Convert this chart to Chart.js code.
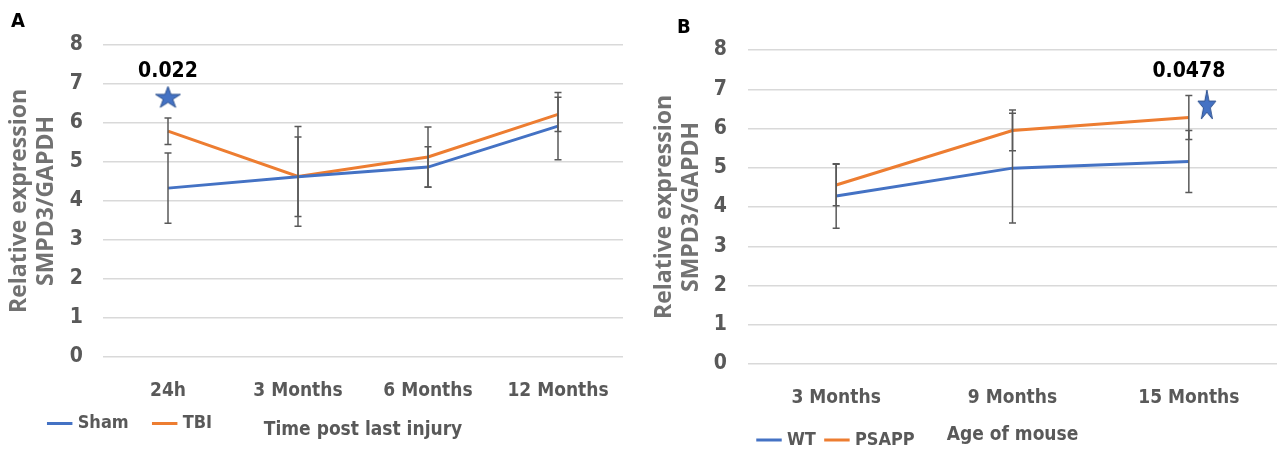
<!DOCTYPE html>
<html>
<head>
<meta charset="utf-8">
<script src="https://cdn.jsdelivr.net/npm/chart.js@4.4.1/dist/chart.umd.min.js"></script>
<style>
  html, body { margin:0; padding:0; background:#fff; overflow:hidden; }
  #wrap { position:relative; width:1283px; height:449px; overflow:hidden; }
  .panel { position:absolute; top:0; height:470px; }
  .tag { position:absolute; font:bold 20px 'DejaVu Sans Condensed','DejaVu Sans',sans-serif; color:#000; }
</style>
</head>
<body>
<div id="wrap">
  <div class="panel" style="left:0;width:640px"><canvas id="chartA"></canvas></div>
  <div class="panel" style="left:640px;width:643px"><canvas id="chartB"></canvas></div>
  <div class="tag" style="left:11px;top:8px">A</div>
  <div class="tag" style="left:677px;top:14px">B</div>
</div>
<script>
// panel A - time post last injury
const catsA    = ['24h', '3 Months', '6 Months', '12 Months'];
const shamA    = [4.33, 4.62, 4.87, 5.92];
const shamErrA = [0.90, 1.02, 0.52, 0.86];
const tbiA     = [5.79, 4.63, 5.13, 6.22];
const tbiErrA  = [0.34, 1.28, 0.77, 0.44];
const starA    = [6.67, null, null, null];
const pTextA   = ['0.022', null, null, null];
const pAtA     = [7.31, null, null, null];

// panel B - age of mouse
const catsB     = ['3 Months', '9 Months', '15 Months'];
const wtB       = [4.28, 4.99, 5.16];
const wtErrB    = [0.82, 1.40, 0.79];
const psappB    = [4.56, 5.95, 6.28];
const psappErrB = [0.53, 0.52, 0.56];
const starB     = [null, null, 6.61];
const pTextB    = [null, null, '0.0478'];
const pAtB      = [null, null, 7.46];

const yMin = 0, yMax = 8, yStep = 1;

const COND   = "'DejaVu Sans Condensed','DejaVu Sans',sans-serif";
const GRAY   = '#595959';
const BLUE   = '#4472C4';
const ORANGE = '#ED7D31';

function starImage(w, h, shift) {
  const c = document.createElement('canvas');
  c.width = Math.ceil(w + 2 * Math.abs(shift) + 4);
  c.height = Math.ceil(h + 4);
  const g = c.getContext('2d');
  const rx = w / 1.902, ry = h / 1.809;
  const cx = c.width / 2 + shift, cy = c.height / 2 + 0.0955 * ry;
  g.beginPath();
  for (let k = 0; k < 10; k++) {
    const a = -Math.PI / 2 + k * Math.PI / 5;
    const r = k % 2 ? 0.382 : 1;
    g.lineTo(cx + Math.cos(a) * r * rx, cy + Math.sin(a) * r * ry);
  }
  g.closePath();
  g.fillStyle = BLUE; g.fill();
  g.strokeStyle = '#2F528F'; g.lineWidth = 1; g.stroke();
  return c;
}

const errorBars = {
  id: 'errorBars',
  afterDatasetsDraw(chart) {
    const { ctx, scales: { y } } = chart;
    ctx.save();
    ctx.strokeStyle = GRAY;
    ctx.lineWidth = 1.5;
    chart.data.datasets.forEach((ds, di) => {
      if (!ds.errors) return;
      chart.getDatasetMeta(di).data.forEach((pt, i) => {
        const v = ds.data[i], e = ds.errors[i];
        if (v == null || e == null) return;
        const top = y.getPixelForValue(v + e), bot = y.getPixelForValue(v - e);
        ctx.beginPath();
        ctx.moveTo(pt.x, top); ctx.lineTo(pt.x, bot);
        ctx.moveTo(pt.x - 3.5, top); ctx.lineTo(pt.x + 3.5, top);
        ctx.moveTo(pt.x - 3.5, bot); ctx.lineTo(pt.x + 3.5, bot);
        ctx.stroke();
      });
    });
    ctx.restore();
  }
};

const pValues = {
  id: 'pValues',
  afterDatasetsDraw(chart, args, opts) {
    const { ctx, scales: { x, y } } = chart;
    ctx.save();
    ctx.font = 'bold 21px ' + COND;
    ctx.fillStyle = '#000';
    ctx.textAlign = 'center';
    ctx.textBaseline = 'middle';
    (opts.text || []).forEach((t, i) => {
      if (t) ctx.fillText(t, x.getPixelForValue(i), y.getPixelForValue(opts.at[i]));
    });
    ctx.restore();
  }
};

function makeChart(id, cfg) {
  const catFont = { family: COND, size: 19, weight: 'bold' };
  const legFont = { family: COND, size: 18, weight: 'bold' };
  new Chart(document.getElementById(id), {
    type: 'line',
    data: {
      labels: cfg.cats,
      datasets: [
        { label: cfg.names[0], data: cfg.series[0], errors: cfg.errors[0], borderColor: BLUE, backgroundColor: BLUE, borderWidth: 3, pointRadius: 0, tension: 0 },
        { label: cfg.names[1], data: cfg.series[1], errors: cfg.errors[1], borderColor: ORANGE, backgroundColor: ORANGE, borderWidth: 3, pointRadius: 0, tension: 0 },
        { label: 'star', data: cfg.star, showLine: false, pointRadius: 5, pointStyle: cfg.starImg }
      ]
    },
    options: {
      responsive: true, maintainAspectRatio: false, animation: false,
      layout: { padding: cfg.pad },
      plugins: {
        tooltip: { enabled: false },
        legend: {
          position: 'bottom', align: 'start', fullSize: cfg.legendFull,
          labels: {
            usePointStyle: true, pointStyle: 'line', boxWidth: 20, boxHeight: 20,
            padding: cfg.legendPad, color: GRAY, font: legFont,
            filter: item => item.datasetIndex < 2
          }
        },
        pValues: { text: cfg.pText, at: cfg.pAt }
      },
      scales: {
        x: {
          offset: true,
          grid: { display: false, drawTicks: false },
          border: { display: false },
          ticks: { padding: cfg.xTickPad, mirror: cfg.xMirror, color: GRAY, font: catFont },
          title: { display: true, text: cfg.xTitle, color: GRAY, font: catFont, padding: { top: 0, bottom: cfg.xTitlePad } },
          afterFit: s => { s.height = cfg.xHeight; }
        },
        y: {
          min: yMin, max: yMax,
          grid: { color: '#d9d9d9', lineWidth: 1.5, drawTicks: false },
          border: { display: false },
          ticks: { stepSize: yStep, padding: cfg.yTickPad, color: GRAY, font: { family: COND, size: 21, weight: 'bold' } },
          title: {
            display: true, text: ['Relative expression', 'SMPD3/GAPDH'], color: '#727272',
            font: { family: "'Open Sans',sans-serif", size: 23, weight: 'bold' },
            padding: { top: cfg.yTitlePad, bottom: 0 }
          },
          afterFit: s => { s.width = cfg.yWidth; }
        }
      }
    },
    plugins: [errorBars, pValues]
  });
}

makeChart('chartA', {
  cats: catsA, names: ['Sham', 'TBI'], series: [shamA, tbiA], errors: [shamErrA, tbiErrA],
  star: starA, starImg: starImage(25, 21, 0), pText: pTextA, pAt: pAtA,
  xTitle: 'Time post last injury',
  pad: { left: 23.7, right: 17, top: 45, bottom: 27.5 },
  legendFull: true, legendPad: 27,
  xHeight: 30.5, xTickPad: -45.9, xMirror: true, xTitlePad: -53.9,
  yWidth: 79.3, yTickPad: 20, yTitlePad: -18.5
});

makeChart('chartB', {
  cats: catsB, names: ['WT', 'PSAPP'], series: [wtB, psappB], errors: [wtErrB, psappErrB],
  star: starB, starImg: starImage(18, 29, 18), pText: pTextB, pAt: pAtB,
  xTitle: 'Age of mouse',
  pad: { left: 10, right: 2, top: 50, bottom: 11 },
  legendFull: false, legendPad: 12,
  xHeight: 55, xTickPad: 22.6, xMirror: false, xTitlePad: -27.4,
  yWidth: 98, yTickPad: 21, yTitlePad: 0.2
});
</script>
</body>
</html>
